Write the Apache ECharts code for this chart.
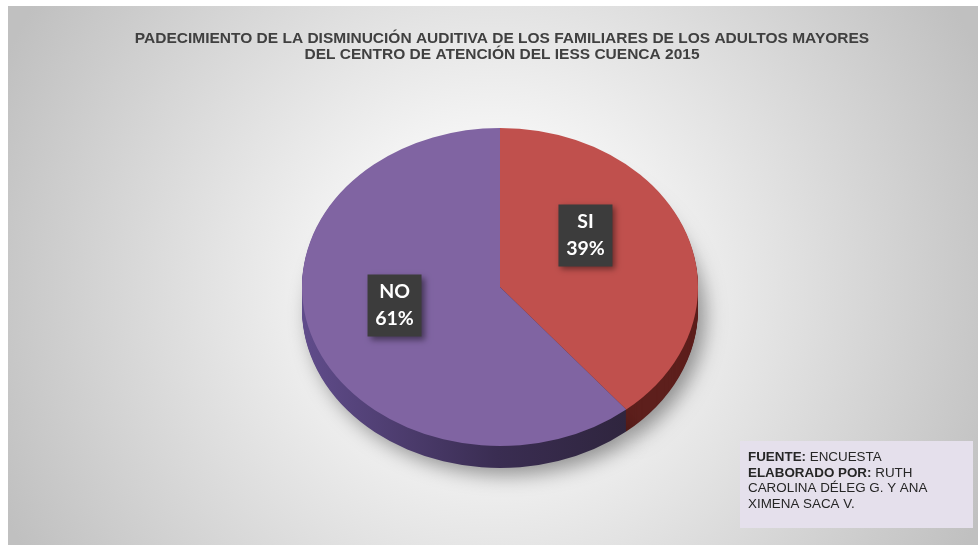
<!DOCTYPE html>
<html>
<head>
<meta charset="utf-8">
<script src="https://cdn.jsdelivr.net/npm/echarts@6/dist/echarts.min.js"></script>
<style>
  html, body { margin: 0; padding: 0; background: #fff; }
  #chart { width: 978px; height: 545px; }
</style>
</head>
<body>
<div id="chart"></div>
<script>
  // data
  const categories = ['SI', 'NO']
  const values = [39, 61]
  const titleLines = [
    'PADECIMIENTO DE LA DISMINUCIÓN AUDITIVA DE LOS FAMILIARES DE LOS ADULTOS MAYORES',
    'DEL CENTRO DE ATENCIÓN DEL IESS CUENCA 2015'
  ]

  // look of the tilted pie
  const topColors = ['#c0504d', '#8064a2']
  const sideColors = [
    '#5d1f1c',
    new echarts.graphic.LinearGradient(0, 0, 1, 0, [
      { offset: 0, color: '#604c8b' },
      { offset: 0.6, color: '#3a2d52' },
      { offset: 1, color: '#2f253e' }
    ])
  ]
  const cx = 500, cy = 287, rx = 198, ry = 159, depth = 22
  const squash = ry / rx
  const labelNudge = [[-17, -22], [-3, -11]]

  const total = values.reduce((a, b) => a + b, 0)
  function sliceAngles(i) {
    let before = 0
    for (let k = 0; k < i; k++) before += values[k]
    let start = -Math.PI / 2 + 2 * Math.PI * before / total
    return [start, start + 2 * Math.PI * values[i] / total]
  }

  function ellipseSector(i, y, fill, extra) {
    let a = sliceAngles(i)
    return {
      type: 'group',
      x: cx,
      y: y,
      scaleY: squash,
      children: [{
        type: 'sector',
        shape: { cx: 0, cy: 0, r: rx, r0: 0, startAngle: a[0], endAngle: a[1] },
        style: Object.assign({ fill: fill }, extra || {})
      }]
    }
  }

  let chart = echarts.init(document.getElementById('chart'))
  let option = {
    animation: false,
    backgroundColor: '#ffffff',
    title: {
      text: titleLines.join('\n'),
      left: 497,
      top: 26,
      textAlign: 'center',
      textStyle: {
        fontFamily: 'Liberation Sans',
        fontSize: 15.5,
        fontWeight: 'bold',
        color: '#404040',
        lineHeight: 16
      }
    },
    graphic: [{
      type: 'rect',
      z: -10,
      shape: { x: 8, y: 6, width: 970, height: 539 },
      style: {
        fill: new echarts.graphic.RadialGradient(0.5, 0.52, 1.0, [
          { offset: 0, color: '#ffffff' },
          { offset: 0.3, color: '#f3f3f3' },
          { offset: 1, color: '#c0c0c0' }
        ])
      }
    }, {
      type: 'rect',
      z: 10,
      shape: { x: 740, y: 441, width: 233, height: 87 },
      style: { fill: '#e5e0ec' }
    }, {
      type: 'text',
      z: 11,
      x: 748,
      y: 450,
      style: {
        text: '{b|FUENTE:} ENCUESTA\n{b|ELABORADO POR:} RUTH\nCAROLINA DÉLEG G. Y ANA\nXIMENA SACA V.',
        fontFamily: 'Liberation Sans',
        fontSize: 13.4,
        lineHeight: 15.5,
        fill: '#262626',
        rich: {
          b: { fontFamily: 'Liberation Sans', fontSize: 13.4, fontWeight: 'bold', lineHeight: 15.5, fill: '#262626' }
        }
      }
    }],
    series: [{
      // side wall of the pie
      type: 'custom',
      coordinateSystem: 'none',
      silent: true,
      z: 2,
      data: values.map((v, i) => [v, i]),
      renderItem: function(params, api) {
        let i = params.dataIndex
        let children = []
        for (let k = depth; k >= 1; k--) {
          let extra = k === depth ? {
            shadowBlur: 20, shadowColor: 'rgba(0,0,0,0.4)', shadowOffsetX: 7, shadowOffsetY: 7
          } : null
          children.push(ellipseSector(i, cy + k, sideColors[i], extra))
        }
        return { type: 'group', children: children }
      }
    }, {
      // top face and labels
      type: 'custom',
      coordinateSystem: 'none',
      silent: true,
      z: 3,
      data: values.map((v, i) => [v, i]),
      renderItem: function(params, api) {
        let i = params.dataIndex
        let a = sliceAngles(i)
        let mid = (a[0] + a[1]) / 2
        let lx = cx + rx * 0.55 * Math.cos(mid) + labelNudge[i][0]
        let ly = cy + ry * 0.55 * Math.sin(mid) + labelNudge[i][1]
        let bw = 54, bh = 62
        return {
          type: 'group',
          children: [
            ellipseSector(i, cy, topColors[i]),
            {
              type: 'rect',
              z2: 10,
              shape: { x: lx - bw / 2, y: ly - bh / 2, width: bw, height: bh },
              style: {
                fill: '#3c3c3c',
                shadowBlur: 6, shadowColor: 'rgba(0,0,0,0.45)', shadowOffsetX: 3, shadowOffsetY: 3
              }
            },
            {
              type: 'text',
              z2: 11,
              x: lx,
              y: ly,
              style: {
                text: categories[i] + '\n' + Math.round(api.value(0) / total * 100) + '%',
                fontFamily: 'Lato',
                fontSize: 19.5,
                fontWeight: 'bold',
                lineHeight: 27,
                fill: '#ffffff',
                align: 'center',
                verticalAlign: 'middle'
              }
            }
          ]
        }
      }
    }]
  }
  chart.setOption(option)
</script>
</body>
</html>
